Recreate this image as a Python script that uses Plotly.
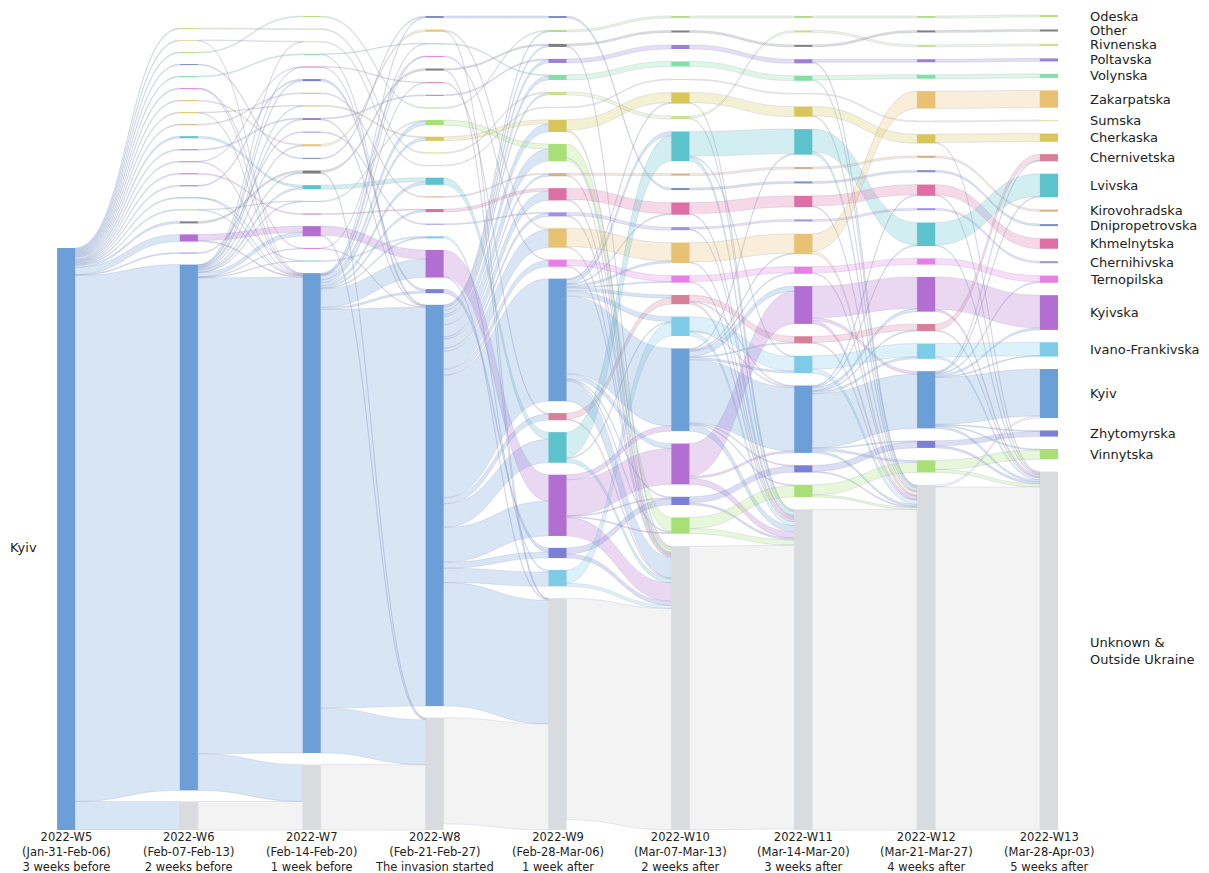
import plotly.graph_objects as go

# ---------------- data ----------------
REGION_NAMES = {
    "OD": "Odeska", "OT": "Other", "RI": "Rivnenska", "PO": "Poltavska", "VO": "Volynska",
    "ZA": "Zakarpatska", "SU": "Sumska", "CK": "Cherkaska", "CV": "Chernivetska", "LV": "Lvivska",
    "KI": "Kirovohradska", "DN": "Dnipropetrovska", "KH": "Khmelnytska", "CH": "Chernihivska",
    "TE": "Ternopilska", "KS": "Kyivska", "IF": "Ivano-Frankivska", "KY": "Kyiv",
    "ZH": "Zhytomyrska", "VI": "Vinnytska", "UN": "Unknown &<br>Outside Ukraine",
}

REGION_COLORS = {
    "OD": "#b5df8c", "OT": "#808080", "RI": "#cadf8a", "PO": "#9b80d9", "VO": "#80e0a8",
    "ZA": "#e8c172", "SU": "#e6d8a6", "CK": "#d8c65a", "CV": "#d8809a", "LV": "#5cc2cc",
    "KI": "#d8ad88", "DN": "#7d8fc4", "KH": "#dc6fa3", "CH": "#a191e3", "TE": "#e67fe6",
    "KS": "#b26fd1", "IF": "#7ecbe8", "KY": "#6c9fd8", "ZH": "#7b80d4", "VI": "#a8e077",
    "UN": "#d9dbde",
}

WEEKS = ["2022-W5", "2022-W6", "2022-W7", "2022-W8", "2022-W9",
         "2022-W10", "2022-W11", "2022-W12", "2022-W13"]
WEEK_DATES = ["(Jan-31-Feb-06)", "(Feb-07-Feb-13)", "(Feb-14-Feb-20)", "(Feb-21-Feb-27)",
              "(Feb-28-Mar-06)", "(Mar-07-Mar-13)", "(Mar-14-Mar-20)", "(Mar-21-Mar-27)",
              "(Mar-28-Apr-03)"]
WEEK_NOTES = ["3 weeks before", "2 weeks before", "1 week before", "The invasion started",
              "1 week after", "2 weeks after", "3 weeks after", "4 weeks after", "5 weeks after"]

# node order in each weekly column (top -> bottom)
ORDER_W5 = ["KY"]
ORDER_W6 = ["RI", "SU", "OD", "DN", "VO", "TE", "ZA", "CK", "KI", "LV", "PO", "CV", "KH",
            "ZH", "IF", "VI", "OT", "KS", "CH", "KY", "UN"]
ORDER_W7 = ["OD", "RI", "SU", "VO", "CV", "ZH", "KI", "CK", "PO", "CH", "ZA", "DN", "OT",
            "LV", "VI", "KH", "KS", "TE", "IF", "KY", "UN"]
ORDER_W8 = ["DN", "ZA", "VO", "TE", "OT", "CV", "PO", "OD", "VI", "CK", "RI", "SU", "LV",
            "KI", "KH", "CH", "IF", "KS", "ZH", "KY", "UN"]
ORDER_W9 = ["DN", "OD", "OT", "PO", "VO", "RI", "SU", "CK", "VI", "KI", "KH", "CH", "ZA",
            "TE", "KY", "CV", "LV", "KS", "ZH", "IF", "UN"]
ORDER_W10 = ["OD", "OT", "PO", "VO", "SU", "CK", "RI", "LV", "KI", "DN", "KH", "CH", "ZA",
             "TE", "CV", "IF", "KY", "KS", "ZH", "VI", "UN"]
ORDER_W11 = ["OD", "RI", "OT", "PO", "VO", "SU", "CK", "LV", "KI", "DN", "KH", "CH", "ZA",
             "TE", "KS", "CV", "IF", "KY", "ZH", "VI", "UN"]
ORDER_W12 = ["OD", "OT", "RI", "PO", "VO", "ZA", "SU", "CK", "KI", "DN", "KH", "CH", "LV",
             "TE", "KS", "CV", "IF", "KY", "ZH", "VI", "UN"]
ORDER_W13 = ["OD", "OT", "RI", "PO", "VO", "ZA", "SU", "CK", "CV", "LV", "KI", "DN", "KH",
             "CH", "TE", "KS", "IF", "KY", "ZH", "VI", "UN"]

# flows between consecutive weeks: (from region, to region, value)
LINKS_W5_W6 = [
    ("KY", "RI", 1), ("KY", "SU", 1), ("KY", "OD", 1), ("KY", "DN", 1), ("KY", "VO", 1),
    ("KY", "TE", 1), ("KY", "ZA", 1), ("KY", "CK", 1), ("KY", "KI", 1), ("KY", "LV", 2),
    ("KY", "PO", 1), ("KY", "CV", 1), ("KY", "KH", 1), ("KY", "ZH", 1), ("KY", "IF", 1),
    ("KY", "VI", 1), ("KY", "OT", 2), ("KY", "KS", 7), ("KY", "CH", 1), ("KY", "KY", 515),
    ("KY", "UN", 28),
]
LINKS_W6_W7 = [
    ("OD", "OD", 1), ("RI", "RI", 1), ("SU", "SU", 0.5), ("SU", "KY", 0.5), ("KY", "SU", 0.5),
    ("VO", "VO", 1), ("CV", "CV", 0.5), ("CV", "KY", 0.5), ("KY", "CV", 0.5), ("KI", "KI", 1),
    ("CK", "CK", 0.5), ("CK", "KY", 0.5), ("KY", "CK", 0.5), ("CH", "CH", 1), ("DN", "DN", 1),
    ("VI", "VI", 0.5), ("VI", "KY", 0.5), ("KY", "VI", 0.5), ("KH", "KH", 1),
    ("TE", "TE", 0.5), ("TE", "KY", 0.5), ("KY", "TE", 0.5),
    ("IF", "IF", 0.5), ("IF", "KY", 0.5), ("KY", "IF", 0.5),
    ("PO", "PO", 1), ("KY", "PO", 1), ("ZA", "ZA", 1), ("KY", "ZA", 1), ("ZH", "ZH", 1),
    ("KY", "ZH", 1), ("OT", "OT", 2), ("KY", "OT", 1), ("LV", "LV", 2), ("KY", "LV", 2),
    ("KS", "KS", 6), ("KS", "KY", 1), ("KY", "KS", 4), ("UN", "UN", 28), ("KY", "UN", 36),
    ("KY", "KY", 466),
]
LINKS_W7_W8 = [
    ("KS", "KS", 9), ("KS", "UN", 1), ("KY", "KS", 18), ("LV", "LV", 4), ("KY", "LV", 3),
    ("OT", "OT", 2), ("OT", "UN", 1), ("ZH", "ZH", 2), ("KY", "ZH", 2), ("PO", "PO", 1),
    ("PO", "KY", 1), ("ZA", "ZA", 2), ("OD", "OD", 1), ("RI", "RI", 1), ("SU", "SU", 1),
    ("VO", "VO", 0.5), ("VO", "KY", 0.5), ("KY", "VO", 0.5),
    ("CV", "CV", 0.5), ("CV", "KY", 0.5), ("KY", "CV", 0.5),
    ("TE", "TE", 0.5), ("TE", "KY", 0.5), ("KY", "TE", 0.5),
    ("KI", "KI", 1), ("CH", "CH", 1), ("CK", "CK", 1), ("KY", "CK", 3), ("DN", "DN", 1),
    ("KY", "DN", 1), ("VI", "VI", 1), ("KY", "VI", 4), ("KH", "KH", 1), ("KY", "KH", 2),
    ("IF", "IF", 1), ("KY", "IF", 1), ("UN", "UN", 64), ("KY", "UN", 44), ("KY", "KY", 390.5),
]
LINKS_W8_W9 = [
    ("DN", "DN", 2), ("OD", "OD", 1), ("KY", "OD", 1), ("OT", "OT", 1.5), ("OT", "UN", 0.5),
    ("KY", "OT", 1.5), ("PO", "PO", 1), ("KY", "PO", 3), ("VO", "VO", 1), ("KY", "VO", 4),
    ("RI", "RI", 1), ("KY", "RI", 2), ("SU", "SU", 1), ("CK", "CK", 4), ("KY", "CK", 8),
    ("VI", "VI", 5), ("KY", "VI", 12), ("KI", "KI", 1), ("KY", "KI", 2), ("KH", "KH", 3),
    ("KY", "KH", 9), ("CH", "CH", 1), ("KY", "CH", 3), ("ZA", "ZA", 1.5), ("ZA", "UN", 0.5),
    ("KY", "ZA", 17.5), ("TE", "TE", 1), ("KY", "TE", 6), ("CV", "CV", 1), ("KY", "CV", 6),
    ("LV", "LV", 7), ("KY", "LV", 23), ("KS", "KS", 26), ("KS", "UN", 1), ("KY", "KS", 34),
    ("ZH", "ZH", 4), ("KY", "ZH", 6), ("IF", "IF", 2), ("KY", "IF", 14), ("KY", "KY", 120),
    ("KY", "UN", 121), ("UN", "UN", 104),
]
LINKS_W9_W10 = [
    ("DN", "DN", 2), ("OD", "OD", 2), ("OT", "OT", 2), ("OT", "UN", 1), ("PO", "PO", 4),
    ("VO", "VO", 5), ("RI", "RI", 3), ("SU", "SU", 1), ("CK", "CK", 10), ("CK", "UN", 2),
    ("KY", "CK", 1), ("VI", "VI", 14), ("VI", "UN", 3), ("KY", "VI", 1), ("KI", "KI", 2),
    ("KI", "UN", 1), ("KH", "KH", 11), ("KH", "UN", 1), ("KY", "KH", 1), ("CH", "CH", 3),
    ("CH", "UN", 1), ("ZA", "ZA", 18), ("ZA", "UN", 1), ("KY", "ZA", 2), ("TE", "TE", 6),
    ("TE", "UN", 1), ("KY", "TE", 1), ("CV", "CV", 6), ("CV", "UN", 1), ("KY", "CV", 3),
    ("LV", "LV", 25), ("LV", "UN", 4), ("LV", "IF", 1), ("KY", "LV", 4), ("KS", "KS", 35),
    ("KS", "KY", 5), ("KS", "UN", 18), ("KS", "ZH", 1), ("KS", "VI", 1), ("KY", "KS", 5),
    ("ZH", "ZH", 6), ("ZH", "UN", 4), ("KY", "ZH", 1), ("IF", "IF", 13), ("IF", "UN", 3),
    ("KY", "IF", 5), ("KY", "KY", 76), ("KY", "UN", 20), ("UN", "UN", 217),
]
LINKS_W10_W11 = [
    ("OD", "OD", 2), ("OT", "OT", 2), ("PO", "PO", 4), ("VO", "VO", 5), ("SU", "SU", 1),
    ("CK", "CK", 10), ("CK", "UN", 1), ("RI", "RI", 2), ("RI", "UN", 1), ("LV", "LV", 24),
    ("LV", "UN", 4), ("LV", "IF", 1), ("KY", "LV", 1), ("KI", "KI", 2), ("DN", "DN", 2),
    ("KH", "KH", 11), ("KH", "UN", 1), ("CH", "CH", 2), ("CH", "UN", 1), ("ZA", "ZA", 19),
    ("ZA", "UN", 1), ("KY", "ZA", 1), ("TE", "TE", 6), ("TE", "UN", 1), ("KY", "TE", 1),
    ("CV", "CV", 6), ("CV", "UN", 2), ("CV", "KY", 1), ("KY", "CV", 1), ("IF", "IF", 14),
    ("IF", "UN", 4), ("IF", "KY", 1), ("KY", "IF", 2), ("KS", "KS", 32), ("KS", "UN", 6),
    ("KS", "KY", 2), ("KY", "KS", 5), ("ZH", "ZH", 6), ("ZH", "UN", 2), ("KY", "ZH", 1),
    ("VI", "VI", 11), ("VI", "UN", 5), ("KY", "VI", 1), ("KY", "KY", 62), ("KY", "UN", 6),
    ("UN", "UN", 278),
]
LINKS_W11_W12 = [
    ("OD", "OD", 2), ("RI", "RI", 2), ("OT", "OT", 2), ("PO", "PO", 3), ("PO", "UN", 1),
    ("VO", "VO", 4), ("VO", "UN", 1), ("SU", "SU", 1), ("CK", "CK", 9), ("CK", "UN", 1),
    ("LV", "LV", 22), ("LV", "UN", 3), ("KY", "LV", 1), ("KI", "KI", 2), ("DN", "DN", 2),
    ("KH", "KH", 10), ("KH", "UN", 1), ("KY", "KH", 1), ("CH", "CH", 2), ("ZA", "ZA", 17),
    ("ZA", "UN", 3), ("TE", "TE", 6), ("TE", "UN", 1), ("KS", "KS", 31), ("KS", "UN", 3),
    ("KS", "KY", 3), ("KY", "KS", 3), ("CV", "CV", 6), ("CV", "UN", 1), ("KY", "CV", 1),
    ("IF", "IF", 13), ("IF", "UN", 4), ("KY", "IF", 2), ("ZH", "ZH", 6), ("ZH", "UN", 1),
    ("KY", "ZH", 1), ("VI", "VI", 10), ("VI", "UN", 2), ("KY", "VI", 2), ("KY", "KY", 53),
    ("KY", "UN", 2), ("UN", "UN", 314),
]
LINKS_W12_W13 = [
    ("OD", "OD", 2), ("OT", "OT", 2), ("RI", "RI", 2), ("PO", "PO", 3), ("VO", "VO", 4),
    ("ZA", "ZA", 17), ("SU", "SU", 1), ("CK", "CK", 8), ("CK", "UN", 1), ("KI", "KI", 2),
    ("DN", "DN", 2), ("KH", "KH", 10), ("KH", "UN", 1), ("CH", "CH", 2), ("LV", "LV", 22),
    ("LV", "UN", 1), ("KY", "LV", 1), ("TE", "TE", 6), ("KY", "TE", 1), ("KS", "KS", 32),
    ("KS", "UN", 2), ("KY", "KS", 2), ("CV", "CV", 6), ("CV", "UN", 1), ("KY", "CV", 1),
    ("IF", "IF", 13), ("IF", "UN", 2), ("KY", "IF", 1), ("ZH", "ZH", 5), ("ZH", "UN", 2),
    ("KY", "ZH", 1), ("VI", "VI", 9), ("VI", "UN", 3), ("KY", "VI", 1), ("KY", "KY", 46),
    ("KY", "UN", 2), ("UN", "KY", 2), ("UN", "UN", 336),
]

COLUMNS = [ORDER_W5, ORDER_W6, ORDER_W7, ORDER_W8, ORDER_W9,
           ORDER_W10, ORDER_W11, ORDER_W12, ORDER_W13]
TRANSITIONS = [LINKS_W5_W6, LINKS_W6_W7, LINKS_W7_W8, LINKS_W8_W9,
               LINKS_W9_W10, LINKS_W10_W11, LINKS_W11_W12, LINKS_W12_W13]

# ---------------- layout constants ----------------
FIG_W, FIG_H = 1209, 873
X_FIRST, X_LAST = 66, 1049          # node centres of first / last column (px)
Y_TOP, Y_BOTTOM = 15, 830           # vertical extent of nodes (px)
NODE_THICK = 18
NODE_PAD = 11.65
COLUMN_TOP = [None, 28, 16, 16, 16, 16, 16, 16, 15]
FONT = "DejaVu Sans, Verdana, sans-serif"


def rgba(hex_color, a):
    h = hex_color.lstrip("#")
    return "rgba(%d,%d,%d,%s)" % (int(h[0:2], 16), int(h[2:4], 16), int(h[4:6], 16), a)


node_id, node_col, node_code = {}, [], []
for c, order in enumerate(COLUMNS):
    for code in order:
        node_id[(c, code)] = len(node_code)
        node_col.append(c)
        node_code.append(code)

src, tgt, val, lcol = [], [], [], []
for t, links in enumerate(TRANSITIONS):
    for s, d, v in links:
        src.append(node_id[(t, s)])
        tgt.append(node_id[(t + 1, d)])
        val.append(v)
        alpha = 0.32 if s == "UN" else 0.27
        lcol.append(rgba(REGION_COLORS[s], alpha))

n = len(node_code)
inflow, outflow = [0.0] * n, [0.0] * n
for s, d, v in zip(src, tgt, val):
    outflow[s] += v
    inflow[d] += v
value = [max(a, b) for a, b in zip(inflow, outflow)]

H = Y_BOTTOM - Y_TOP
W = X_LAST - X_FIRST
ky = min((H - (len(order) - 1) * NODE_PAD) / sum(value[node_id[(c, k)]] for k in order)
         for c, order in enumerate(COLUMNS))

centers = [0.0] * n
for c, order in enumerate(COLUMNS):
    ids = [node_id[(c, k)] for k in order]
    hs = [value[i] * ky for i in ids]
    if len(ids) == 1:
        centers[ids[0]] = Y_BOTTOM - hs[0] / 2
        continue
    gap = (Y_BOTTOM - COLUMN_TOP[c] - sum(hs)) / (len(ids) - 1)
    y = COLUMN_TOP[c]
    for i, h in zip(ids, hs):
        centers[i] = y + h / 2
        y += h + gap

ncol = len(COLUMNS) - 1
node_x = [max(c / ncol, 1e-4) for c in node_col]
node_y = [max((centers[i] - Y_TOP) / H, 1e-4) for i in range(n)]

fig = go.Figure(go.Sankey(
    arrangement="fixed",
    domain=dict(x=[X_FIRST / FIG_W, X_LAST / FIG_W], y=[1 - Y_BOTTOM / FIG_H, 1 - Y_TOP / FIG_H]),
    node=dict(
        label=[""] * n,
        color=[REGION_COLORS[k] for k in node_code],
        x=node_x, y=node_y,
        pad=NODE_PAD, thickness=NODE_THICK,
        line=dict(width=0),
        hoverinfo="none",
    ),
    link=dict(
        source=src, target=tgt, value=val, color=lcol,
        line=dict(color="rgba(140,145,185,0.4)", width=0.5),
        hoverinfo="none",
    ),
))

annotations = []
# region labels to the right of the last column
last = len(COLUMNS) - 1
for k in COLUMNS[last]:
    i = node_id[(last, k)]
    annotations.append(dict(
        x=1088 / FIG_W, y=1 - centers[i] / FIG_H, xref="paper", yref="paper",
        text=REGION_NAMES[k], showarrow=False, xanchor="left", yanchor="middle", align="left",
        font=dict(family=FONT, size=13, color="#222222"),
    ))
# label of the first column
i0 = node_id[(0, "KY")]
annotations.append(dict(
    x=8 / FIG_W, y=1 - (centers[i0] + 8) / FIG_H, xref="paper", yref="paper",
    text=REGION_NAMES["KY"], showarrow=False, xanchor="left", yanchor="middle",
    font=dict(family=FONT, size=13, color="#222222"),
))
# week captions
for c in range(len(COLUMNS)):
    xc = X_FIRST + W * c / ncol
    annotations.append(dict(
        x=xc / FIG_W, y=1 - 828 / FIG_H, xref="paper", yref="paper",
        text="%s<br>%s<br>%s" % (WEEKS[c], WEEK_DATES[c], WEEK_NOTES[c]),
        showarrow=False, xanchor="center", yanchor="top", align="center",
        font=dict(family=FONT, size=11.5, color="#222222"),
    ))

fig.update_layout(
    width=FIG_W, height=FIG_H,
    margin=dict(l=0, r=0, t=0, b=0),
    paper_bgcolor="white", plot_bgcolor="white",
    font=dict(family=FONT),
    annotations=annotations,
)
fig.write_html("out.html")
